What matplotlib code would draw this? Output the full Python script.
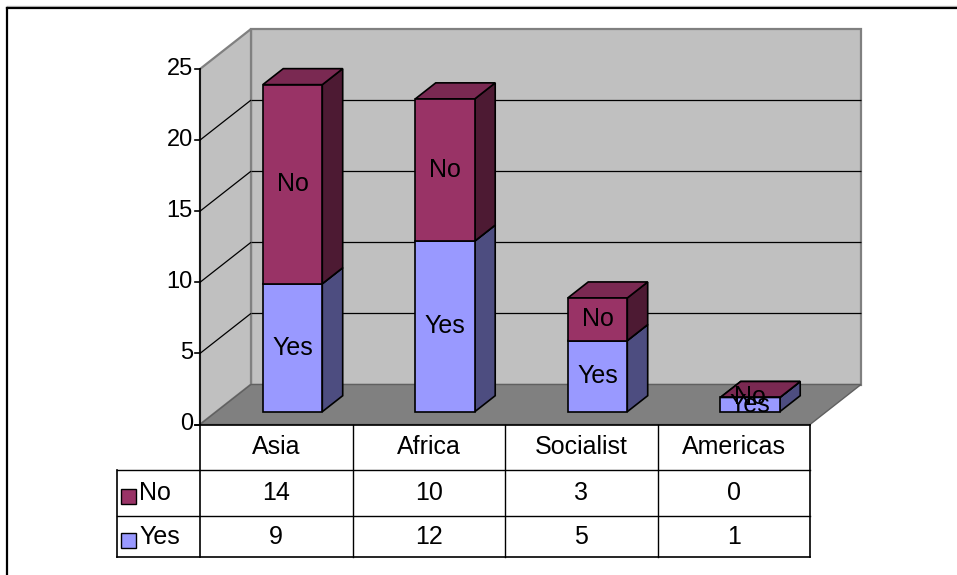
import numpy as np
import matplotlib.pyplot as plt
from matplotlib.patches import Polygon, Rectangle
from matplotlib.lines import Line2D
from matplotlib.transforms import blended_transform_factory

regions = ['Asia', 'Africa', 'Socialist', 'Americas']
yes_votes = [9, 12, 5, 1]
no_votes = [14, 10, 3, 0]
y_ticks = [0, 5, 10, 15, 20, 25]

plt.rcParams['font.family'] = ['Liberation Sans', 'DejaVu Sans']
FS = 18

W, H = 957, 575
fig = plt.figure(figsize=(W / 100, H / 100), dpi=100)
# front plane of the box: x 200..810 px, value 0 at y=424.5 px, 25 at y=69 px
ax = fig.add_axes([200 / W, 1 - 424.5 / H, 610 / W, 355.5 / H])
ax.set_xlim(-0.5, len(regions) - 0.5)
ax.set_ylim(0, y_ticks[-1])
ax.axis('off')

# depth of the box (px) in data units
px_x = 610 / len(regions)
px_y = 355.5 / y_ticks[-1]
DX, DY = 51 / px_x, 40 / px_y


def pt(x, y, d):
    return (x + d * DX, y + d * DY)


def face(pts, fc, ec, lw=1.0, z=1):
    ax.add_patch(Polygon([pt(*p) for p in pts], closed=True, fc=fc, ec=ec,
                         lw=lw, zorder=z, clip_on=False, joinstyle='miter'))


def line3d(p, q, color, lw=1.0, z=2):
    a, b = pt(*p), pt(*q)
    ax.plot([a[0], b[0]], [a[1], b[1]], color=color, lw=lw, zorder=z,
            clip_on=False, solid_capstyle='butt')


x0, x1 = -0.5, len(regions) - 0.5
ymax = y_ticks[-1]

# walls and floor
face([(x0, 0, 1), (x1, 0, 1), (x1, ymax, 1), (x0, ymax, 1)], '#c0c0c0', '#808080', 1.6)
face([(x0, 0, 0), (x0, 0, 1), (x0, ymax, 1), (x0, ymax, 0)], '#c0c0c0', '#808080', 1.6)
face([(x0, 0, 0), (x1, 0, 0), (x1, 0, 1), (x0, 0, 1)], '#808080', '#606060', 1.0)

# gridlines on the back and left wall
for t in y_ticks[1:-1]:
    line3d((x0, t, 1), (x1, t, 1), 'black', 0.9)
    line3d((x0, t, 0), (x0, t, 1), 'black', 0.9)

# value axis
ax.plot([x0, x0], [0, ymax], color='black', lw=1.2, zorder=3, clip_on=False)
for t in y_ticks:
    ax.plot([x0 - 5 / px_x, x0], [t, t], color='black', lw=1.2, zorder=3, clip_on=False)
    ax.text(x0 - 7 / px_x, t, str(t), ha='right', va='center', fontsize=FS - 1, zorder=3)

# stacked 3d bars
d0, d1 = 0.32, 0.72
bw = 0.39
series = [
    ('Yes', yes_votes, '#9999ff', '#4d4d80', '#7a7acc'),
    ('No', no_votes, '#993366', '#4d1a33', '#7a2952'),
]
for i in range(len(regions)):
    bottom = 0
    l, r = i - bw / 2, i + bw / 2
    for name, vals, c_front, c_side, c_top in series:
        top = bottom + vals[i]
        face([(r, bottom, d0), (r, top, d0), (r, top, d1), (r, bottom, d1)], c_side, 'black', 1.2, 4)
        face([(l, top, d0), (r, top, d0), (r, top, d1), (l, top, d1)], c_top, 'black', 1.2, 4)
        face([(l, bottom, d0), (r, bottom, d0), (r, top, d0), (l, top, d0)], c_front, 'black', 1.2, 4)
        tx, ty = pt(i, bottom + vals[i] / 2, d0)
        ax.text(tx, ty, name, ha='center', va='center', fontsize=FS, zorder=10)
        bottom = top

# data table under the chart
bt = blended_transform_factory(ax.transData, fig.transFigure)


def fy(py):
    return 1 - py / H


rows = [424.5, 470, 516, 557]
xl = x0 - 83 / px_x


def hline(xa, xb, py, color='black', lw=1.0):
    fig.add_artist(Line2D([xa, xb], [fy(py), fy(py)], transform=bt, color=color, lw=lw))


def vline(x, pa, pb, color='black', lw=1.0):
    fig.add_artist(Line2D([x, x], [fy(pa), fy(pb)], transform=bt, color=color, lw=lw))


hline(x0 - 5 / px_x, x1, rows[0], lw=1.2)
hline(xl, x1, rows[1])
hline(xl, x1, rows[2])
hline(xl, x1, rows[3], lw=1.2)
vline(x0, rows[0], rows[3], lw=1.2)
vline(xl, rows[1], rows[3], lw=1.2)
for k in range(1, len(regions) + 1):
    vline(k - 0.5, rows[0], rows[3], lw=1.2 if k == len(regions) else 1.0)

for i, name in enumerate(regions):
    fig.text(i, fy((rows[0] + rows[1]) / 2), name, transform=bt, ha='center', va='center', fontsize=FS)
    fig.text(i, fy((rows[1] + rows[2]) / 2), str(no_votes[i]), transform=bt, ha='center', va='center', fontsize=FS)
    fig.text(i, fy((rows[2] + rows[3]) / 2), str(yes_votes[i]), transform=bt, ha='center', va='center', fontsize=FS)

# legend keys in the row header cells
for (name, vals, c_front, c_side, c_top), (ra, rb) in zip(series[::-1], [(rows[1], rows[2]), (rows[2], rows[3])]):
    mid = (ra + rb) / 2
    fig.add_artist(Rectangle((xl + 4 / px_x, fy(mid + 11)), 15 / px_x, 15 / H, transform=bt,
                             fc=c_front, ec='black', lw=1.0))
    fig.text(xl + 22 / px_x, fy(mid), name, transform=bt, ha='left', va='center', fontsize=FS)

# chart area border
fig.add_artist(Line2D([7.5 / W, 1], [fy(6), fy(6)], transform=fig.transFigure, color='#c0c0c0', lw=1.0))
fig.add_artist(Line2D([7.5 / W, 1], [fy(7.5), fy(7.5)], transform=fig.transFigure, color='black', lw=1.6))
fig.add_artist(Line2D([7.5 / W, 7.5 / W], [fy(7.5), 0], transform=fig.transFigure, color='black', lw=1.6))

fig.savefig('out.png', dpi=100)
